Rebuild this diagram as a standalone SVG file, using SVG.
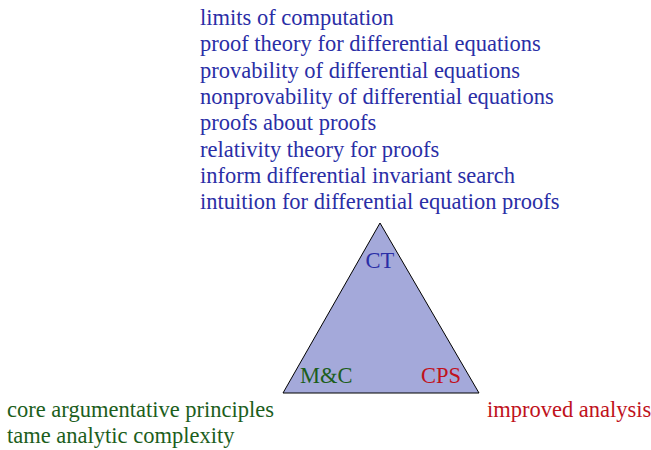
<svg xmlns="http://www.w3.org/2000/svg" width="651" height="450" viewBox="0 0 651 450">
<style>
text{font-family:"Liberation Serif","Times New Roman",serif;font-size:22.5px}
.b{fill:#2a2ea6}.g{fill:#1c5e1c}.r{fill:#c0121c}
</style>
<rect width="651" height="450" fill="#fff"/>
<g id="connectors"></g>
<g id="triangle">
<polygon points="380,223 283,393 479,393" fill="#a4a9da" stroke="#000" stroke-width="1"/>
</g>
<g id="CT"><text class="b" x="380" y="268" text-anchor="middle">CT</text></g>
<g id="MC"><text class="g" x="300" y="383">M&amp;C</text></g>
<g id="CPS"><text class="r" x="461" y="383" text-anchor="end">CPS</text></g>
<g id="ct-list" class="b">
<text class="b" x="200" y="25">limits of computation</text>
<text class="b" x="200" y="51.3">proof theory for differential equations</text>
<text class="b" x="200" y="77.6">provability of differential equations</text>
<text class="b" x="200" y="104">nonprovability of differential equations</text>
<text class="b" x="200" y="130.3">proofs about proofs</text>
<text class="b" x="200" y="156.6">relativity theory for proofs</text>
<text class="b" x="200" y="183">inform differential invariant search</text>
<text class="b" x="200" y="209.3">intuition for differential equation proofs</text>
</g>
<g id="mc-list">
<text class="g" x="7" y="417">core argumentative principles</text>
<text class="g" x="7" y="443">tame analytic complexity</text>
</g>
<g id="cps-list"><text class="r" x="487" y="417">improved analysis</text></g>
</svg>
